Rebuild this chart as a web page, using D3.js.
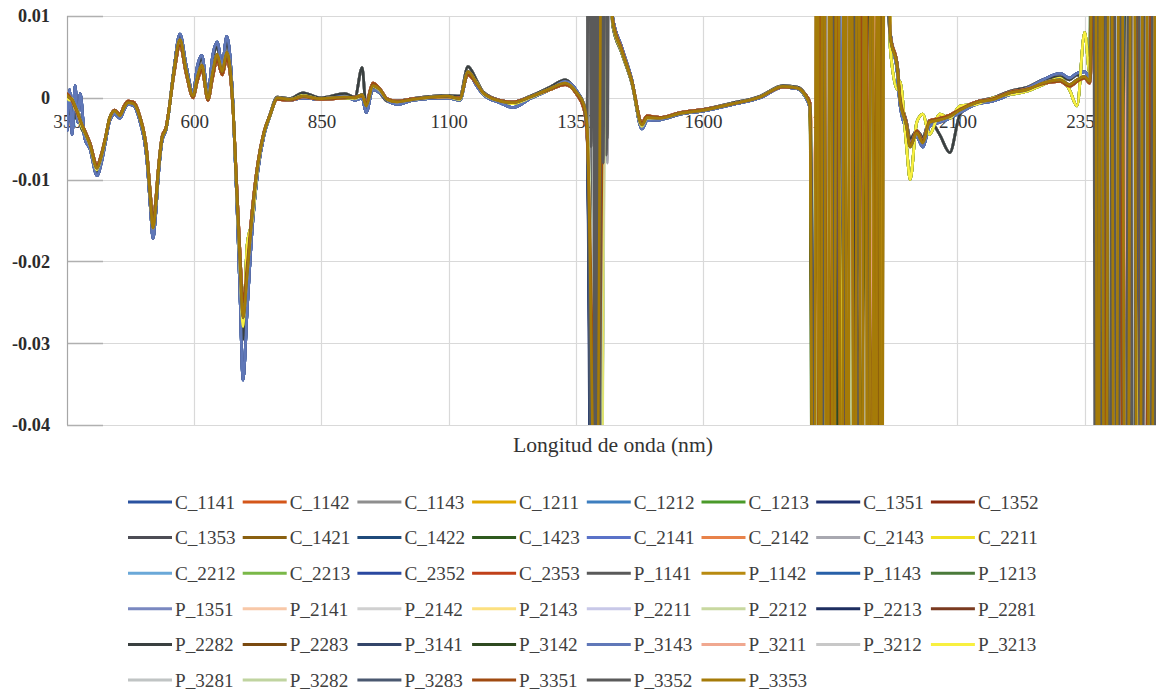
<!DOCTYPE html>
<html><head><meta charset="utf-8">
<script src="https://cdn.jsdelivr.net/npm/d3@7"></script>
<style>
html,body{margin:0;padding:0;background:#fff;}
svg{display:block;}
</style></head>
<body>
<svg id="chart" width="1156" height="691"></svg>
<script>
// ---------- DATA ----------
const seriesNames = ["C_1141","C_1142","C_1143","C_1211","C_1212","C_1213","C_1351","C_1352",
"C_1353","C_1421","C_1422","C_1423","C_2141","C_2142","C_2143","C_2211",
"C_2212","C_2213","C_2352","C_2353","P_1141","P_1142","P_1143","P_1213",
"P_1351","P_2141","P_2142","P_2143","P_2211","P_2212","P_2213","P_2281",
"P_2282","P_2283","P_3141","P_3142","P_3143","P_3211","P_3212","P_3213",
"P_3281","P_3282","P_3283","P_3351","P_3352","P_3353"];

const seriesColors = ["#2a52a0","#d4561a","#8e8e8e","#e0a800","#3d7ebf","#4a9a2a","#1f3170","#8c2a10",
"#4d4d55","#8a6010","#1f4a7a","#2e5a1e","#5a72c8","#e8824a","#a8a8b0","#f0e020",
"#6aa8d8","#7ab848","#2a48a0","#c0401a","#5a5a5a","#b88a10","#2860a8","#4a7a3a",
"#7a88c0","#f8c8a8","#d0d0d0","#fce080","#c8c8e8","#c8d8a0","#1e2e60","#7a3a20",
"#3a4040","#7a4a10","#34466a","#2e4a20","#6078b8","#f0a890","#c8c8c8","#f8f040",
"#c0c4c4","#c0d4a0","#4a5870","#a04a10","#5a5a5a","#a57b08"];

const yTicks = [0.01, 0, -0.01, -0.02, -0.03, -0.04];
const xTicks = [350, 600, 850, 1100, 1350, 1600, 1850, 2100, 2350];
const xTitle = "Longitud de onda (nm)";

// values below are in units of 0.0001
const UNIT = 1e-4;

// wavelengths (nm) of the smooth parts of the spectra
const smoothNm = [350,355,360,366,371,376,385,395,409,418,
 425,434,444,454,462,470,480,493,507,514,
 519,524,529,537,545,550,560,572,584,598,
 606,615,627,636,645,655,664,676,684,690,
 696,704,714,725,737,749,763,788,814,847,
 896,916,930,938,951,965,979,999,1030,1097,
 1122,1138,1156,1168,1201,1227,1260,1299,1329,1352,
 1366,1372,1422,1440,1460,1480,1490,1515,1555,1602,
 1653,1712,1757,1785,1800,1810,1968,1982,1987,2000,
 2007,2020,2032,2045,2065,2085,2105,2137,2170,2203,
 2237,2268,2302,2320,2335,2350,2360];

const profileMain = [3,0,-2,-10,-18,-27,-42,-57,-86,-70,
 -51,-24,-16,-22,-12,-6,-7,-24,-70,-125,
 -159,-135,-94,-49,-37,-17,32,71,34,2,
 25,40,-1,30,53,32,56,-9,-119,-200,
 -269,-216,-143,-82,-43,-21,0,-2,2,-1,
 1,0,4,-10,15,10,-2,-5,-2,2,
 -1,32,17,6,-4,-6,1,11,18,6,
 -9,-33,95,58,20,-33,-24,-25,-19,-15,
 -8,1,14,12,4,-10,75,35,-2,-35,
 -60,-43,-55,-30,-27,-23,-15,-6,-2,6,
 10,18,22,16,22,26,20];

const profileDeep = [-40,10,-45,15,-30,5,-50,-62,-95,-78,
 -56,-28,-20,-25,-15,-8,-9,-28,-76,-135,
 -172,-145,-100,-52,-38,-18,34,78,40,6,
 38,52,4,50,68,40,75,-5,-130,-240,
 -345,-260,-160,-90,-46,-22,-1,-3,0,-2,
 2,-3,0,-18,10,6,-3,-8,-3,0,
 -3,30,14,4,-6,-12,-1,10,20,8,
 -12,-40,100,62,22,-38,-28,-27,-20,-16,
 -9,0,13,11,2,-12,80,30,-8,-40,
 -55,-48,-60,-35,-30,-25,-18,-8,-4,4,
 12,22,30,24,30,32,25];

const profileGray = [-10,-20,-5,-25,-12,-32,-45,-60,-90,-72,
 -53,-26,-17,-23,-13,-5,-6,-25,-72,-128,
 -163,-138,-96,-50,-36,-16,34,75,38,4,
 33,48,2,45,62,36,68,-7,-124,-215,
 -295,-230,-150,-85,-44,-20,1,-1,6,0,
 5,1,37,-12,12,6,-4,-4,-1,3,
 2,38,20,7,-3,-5,2,13,22,7,
 -8,-30,90,55,18,-36,-26,-26,-20,-14,
 -7,2,15,13,5,-8,70,40,5,-30,
 -50,-40,-48,-28,-45,-67,-20,-5,0,8,
 13,22,26,22,28,24,22];

const profileWarm = [5,2,-4,-12,-20,-28,-40,-55,-82,-68,
 -50,-25,-15,-20,-10,-4,-5,-22,-66,-118,
 -150,-128,-90,-47,-35,-16,28,64,30,0,
 20,34,-3,24,46,28,48,-12,-112,-190,
 -250,-205,-137,-80,-42,-21,-2,-3,1,-2,
 0,1,2,-6,18,11,-1,-4,-1,1,
 0,28,16,6,-3,-5,1,10,16,4,
 -14,-45,98,60,21,-30,-22,-24,-18,-14,
 -8,1,13,12,5,-6,78,38,2,-32,
 -58,-40,-52,-28,-25,-21,-14,-5,-1,7,
 11,17,20,14,20,24,18];

const profileBright = [0,-3,-1,-14,-16,-30,-43,-58,-88,-71,
 -52,-25,-16,-21,-11,-5,-6,-23,-68,-122,
 -156,-132,-92,-48,-36,-17,30,68,32,1,
 22,37,-2,28,50,30,52,-10,-122,-210,
 -280,-180,-150,-85,-44,-22,-1,-2,3,-1,
 0,-1,2,-8,14,9,-2,-5,-2,1,
 -2,30,18,5,-4,-7,0,10,17,5,
 -10,-36,92,56,19,-35,-25,-25,-19,-15,
 -8,1,14,12,3,-9,60,10,20,-60,
 -100,-30,-20,-45,-20,-25,-10,-8,0,4,
 8,16,24,10,-10,80,30];

// which smooth profile each series follows (0 main,1 deep,2 gray,3 warm,4 bright)
const seriesProfile = [1,3,2,0,1,4,1,3, 2,0,1,4,1,3,2,4, 1,4,1,3,2,0,1,4,
 1,3,2,4,1,4,1,3, 2,0,3,4,1,3,0,4, 0,0,0,3,0,0];

// [nm, value] points of each series inside the three water absorption bands
const spikes = [
 /*C_1141*/[[1388,-900],[1404,700],[1824,-900],[1850,700],[1880,-900],[1942,600],[2370,600],[2392,-900],[2426,600],[2462,-900],[2498,500]],
 /*C_1142*/[[1386,-700],[1410,600],[1830,-800],[1862,600],[1900,-900],[1955,700],[2376,700],[2404,-900],[2440,600],[2474,-900],[2498,400]],
 /*C_1143*/[[1378,500],[1390,-800],[1406,500],[1416,400],[1820,-900],[1845,600],[1872,-800],[1930,700],[1948,-800],[1960,600],[2366,600],[2384,-900],[2410,600],[2446,-900],[2482,600],[2498,-500]],
 /*C_1211*/[[1384,-600],[1400,800],[1818,-900],[1826,600],[1834,-900],[1842,600],[1850,-900],[1858,600],[1866,-900],[1874,600],[1882,-900],[1890,600],[1898,-900],[1906,600],[1914,-900],[1922,600],[1930,-900],[1938,600],[1946,-900],[1956,600],[2372,600],[2396,-900],[2432,700],[2470,-900],[2498,500]],
 /*C_1212*/[[1392,-900],[1412,600],[1826,-900],[1838,600],[1868,-900],[1910,700],[1936,-800],[1952,600],[2380,600],[2408,-900],[2438,600],[2466,-900],[2498,500]],
 /*C_1213*/[[1380,-400],[1394,-900],[1408,700],[1816,-850],[1832,700],[1876,-900],[1960,600],[2364,700],[2378,-900],[2402,600],[2454,-900],[2498,400]],
 /*C_1351*/[[1384,-1000],[1396,600],[1828,-1000],[1854,600],[1884,-900],[1944,700],[2374,600],[2400,-1000],[2436,600],[2480,-900],[2498,400]],
 /*C_1352*/[[1390,-800],[1408,500],[1832,-800],[1866,600],[1904,-900],[1950,600],[2382,700],[2412,-900],[2448,600],[2484,-900],[2498,300]],
 /*C_1353*/[[1376,500],[1388,-900],[1402,700],[1410,-60],[1416,500],[1822,-900],[1848,700],[1890,-900],[1940,600],[2368,600],[2388,-900],[2420,600],[2458,-900],[2492,600]],
 /*C_1421*/[[1392,-700],[1410,600],[1820,-900],[1830,600],[1840,-900],[1852,600],[1862,-900],[1876,600],[1888,-900],[1900,600],[1912,-900],[1926,600],[1938,-900],[1958,600],[2376,600],[2398,-900],[2428,600],[2464,-900],[2498,500]],
 /*C_1422*/[[1386,-900],[1400,800],[1826,-900],[1858,600],[1896,-900],[1946,700],[2372,700],[2394,-900],[2430,600],[2468,-900],[2498,400]],
 /*C_1423*/[[1390,-600],[1414,500],[1818,-800],[1844,600],[1886,-900],[1962,600],[2366,600],[2382,-800],[2416,600],[2450,-900],[2498,500]],
 /*C_2141*/[[1388,-800],[1404,600],[1830,-900],[1852,700],[1878,-800],[1934,600],[2378,600],[2404,-900],[2442,700],[2476,-900],[2498,400]],
 /*C_2142*/[[1394,-500],[1412,700],[1834,-700],[1870,600],[1908,-900],[1952,600],[2384,600],[2414,-800],[2446,600],[2480,-900],[2498,300]],
 /*C_2143*/[[1380,400],[1390,-900],[1406,600],[1412,-80],[1417,500],[1824,-900],[1856,600],[1892,-900],[1938,600],[2370,600],[2390,-900],[2424,600],[2460,-900],[2494,600]],
 /*C_2211*/[[1396,-700],[1410,800],[1820,-900],[1840,700],[1902,-900],[1958,800],[2374,800],[2402,-900],[2434,800],[2472,-900],[2498,600]],
 /*C_2212*/[[1384,-600],[1402,500],[1822,-900],[1836,600],[1864,-800],[1918,600],[2380,600],[2406,-800],[2440,600],[2478,-900],[2498,400]],
 /*C_2213*/[[1398,-600],[1414,600],[1828,-700],[1860,600],[1898,-900],[1948,600],[2368,600],[2386,-700],[2418,600],[2456,-900],[2498,500]],
 /*C_2352*/[[1386,-900],[1400,600],[1826,-900],[1842,600],[1874,-900],[1928,700],[2376,600],[2400,-900],[2436,700],[2470,-900],[2498,400]],
 /*C_2353*/[[1390,-500],[1406,700],[1832,-800],[1864,600],[1906,-900],[1954,600],[2382,600],[2410,-900],[2444,600],[2482,-900],[2498,300]],
 /*P_1141*/[[1376,600],[1382,-50],[1392,-900],[1404,800],[1410,-70],[1415,500],[1822,-900],[1850,700],[1888,-900],[1944,600],[2366,700],[2386,-900],[2418,600],[2452,-900],[2488,600]],
 /*P_1142*/[[1388,-700],[1410,600],[1819,-900],[1828,600],[1837,-900],[1846,600],[1855,-900],[1864,600],[1873,-900],[1882,600],[1891,-900],[1900,600],[1909,-900],[1918,600],[1927,-900],[1936,600],[1945,-900],[1957,600],[2372,600],[2392,-900],[2414,600],[2438,-900],[2462,600],[2486,-900],[2498,400]],
 /*P_1143*/[[1386,-800],[1402,500],[1828,-900],[1846,600],[1882,-900],[1932,700],[2378,600],[2402,-900],[2434,600],[2468,-900],[2498,500]],
 /*P_1213*/[[1396,-900],[1412,600],[1816,-900],[1838,600],[1870,-900],[1956,600],[2364,600],[2380,-900],[2412,600],[2448,-900],[2498,400]],
 /*P_1351*/[[1390,-900],[1404,700],[1830,-900],[1852,700],[1886,-900],[1940,600],[2374,600],[2398,-900],[2430,600],[2466,-900],[2498,500]],
 /*P_2141*/[[1392,-600],[1408,500],[1834,-600],[1866,600],[1912,-800],[1950,600],[2384,600],[2412,-700],[2446,600],[2484,-800],[2498,300]],
 /*P_2142*/[[1378,500],[1394,-800],[1410,600],[1824,-800],[1858,600],[1894,-900],[1942,600],[2370,600],[2394,-900],[2426,600],[2462,-900],[2496,600]],
 /*P_2143*/[[1398,-700],[1412,800],[1820,-700],[1854,600],[1900,-900],[1960,700],[2376,800],[2404,-900],[2438,700],[2474,-900],[2498,500]],
 /*P_2211*/[[1388,-600],[1402,600],[1826,-600],[1848,600],[1880,-800],[1936,600],[2380,600],[2408,-800],[2442,600],[2480,-900],[2498,400]],
 /*P_2212*/[[1400,-500],[1414,700],[1832,-700],[1868,600],[1904,-800],[1952,600],[2368,600],[2388,-700],[2420,600],[2458,-800],[2498,500]],
 /*P_2213*/[[1386,-1000],[1398,600],[1828,-1000],[1844,600],[1872,-900],[1926,700],[2374,600],[2396,-1000],[2432,600],[2470,-900],[2498,400]],
 /*P_2281*/[[1390,-700],[1406,500],[1830,-800],[1862,600],[1898,-900],[1946,600],[2382,600],[2412,-900],[2448,600],[2486,-900],[2498,300]],
 /*P_2282*/[[1376,500],[1392,-900],[1404,700],[1822,-900],[1846,700],[1884,-900],[1938,600],[2368,700],[2390,-900],[2422,600],[2456,-900],[2490,600]],
 /*P_2283*/[[1388,-800],[1408,600],[1817,-900],[1825,600],[1833,-900],[1843,600],[1853,-900],[1861,600],[1869,-900],[1879,600],[1889,-900],[1897,600],[1905,-900],[1915,600],[1925,-900],[1933,600],[1941,-900],[1953,600],[2372,600],[2390,-900],[2410,600],[2434,-900],[2458,600],[2482,-900],[2498,400]],
 /*P_3141*/[[1386,-900],[1400,800],[1826,-900],[1852,700],[1890,-900],[1944,600],[2376,600],[2400,-900],[2434,600],[2470,-900],[2498,400]],
 /*P_3142*/[[1394,-800],[1410,600],[1818,-800],[1840,600],[1878,-900],[1958,600],[2366,600],[2384,-900],[2414,600],[2452,-900],[2498,500]],
 /*P_3143*/[[1390,-700],[1404,600],[1830,-900],[1856,600],[1892,-800],[1934,600],[2378,600],[2404,-900],[2440,600],[2476,-900],[2498,400]],
 /*P_3211*/[[1396,-600],[1412,500],[1834,-600],[1870,600],[1910,-800],[1954,600],[2384,600],[2414,-700],[2448,600],[2486,-800],[2498,300]],
 /*P_3212*/[[1380,500],[1392,-800],[1406,700],[1824,-800],[1850,600],[1886,-900],[1940,600],[2370,600],[2392,-900],[2424,600],[2460,-900],[2494,600]],
 /*P_3213*/[[1398,-900],[1408,800],[1820,-900],[1836,800],[1896,-900],[1956,800],[2374,800],[2398,-900],[2432,800],[2468,-900],[2498,600]],
 /*P_3281*/[[1378,500],[1390,-700],[1404,600],[1826,-700],[1858,600],[1900,-800],[1948,600],[2378,600],[2386,-900],[2394,600],[2404,-900],[2416,600],[2428,-900],[2440,600],[2452,-900],[2464,600],[2476,-900],[2490,600]],
 /*P_3282*/[[1396,-600],[1410,600],[1832,-600],[1866,600],[1906,-800],[1952,600],[2368,600],[2388,-700],[2420,600],[2456,-800],[2498,500]],
 /*P_3283*/[[1386,-900],[1402,700],[1828,-900],[1848,700],[1880,-900],[1930,600],[2376,600],[2402,-900],[2436,600],[2472,-900],[2498,400]],
 /*P_3351*/[[1392,-500],[1414,600],[1822,-900],[1834,600],[1848,-900],[1860,600],[1874,-900],[1886,600],[1902,-900],[1916,600],[1932,-900],[1950,600],[2382,600],[2396,-900],[2412,600],[2430,-900],[2448,600],[2466,-900],[2486,600]],
 /*P_3352*/[[1376,500],[1380,-60],[1384,600],[1388,-900],[1392,600],[1396,-900],[1400,600],[1404,-80],[1408,600],[1412,-50],[1416,600],[1826,-900],[1846,600],[1868,-900],[1888,600],[1914,-900],[1940,600],[2366,600],[2372,-900],[2378,600],[2384,-900],[2392,600],[2398,-900],[2406,600],[2414,-900],[2422,600],[2430,-900],[2438,600],[2446,-900],[2454,600],[2462,-900],[2470,600],[2478,-900],[2486,600],[2494,-900],[2500,600]],
 /*P_3353*/[[1390,-600],[1406,700],[1818,-900],[1824,600],[1830,-900],[1836,600],[1844,-900],[1850,600],[1856,-900],[1864,600],[1872,-900],[1878,600],[1884,-900],[1890,600],[1898,-900],[1904,600],[1912,-900],[1918,600],[1924,-900],[1932,600],[1938,-900],[1944,600],[1950,-900],[1958,600],[2370,600],[2376,-900],[2382,600],[2390,-900],[2400,600],[2410,-900],[2420,600],[2432,-900],[2444,600],[2456,-900],[2468,600],[2480,-900],[2492,600]]
];

const profiles = [profileMain, profileDeep, profileGray, profileWarm, profileBright];

// ---------- FONT PICK (serif if installed) ----------
const measureCtx = document.createElement("canvas").getContext("2d");
function textWidth(font, txt) { measureCtx.font = font; return measureCtx.measureText(txt).width; }
function fontExists(fam) {
  const t = "Longitud de onda (nm) 0123456789";
  return textWidth(`40px "${fam}", monospace`, t) !== textWidth("40px monospace", t);
}
const serifCandidates = ["Liberation Serif", "Tinos", "Times New Roman", "DejaVu Serif", "Noto Serif",
  "FreeSerif", "Nimbus Roman", "Nimbus Roman No9 L", "Times"];
const fontFam = serifCandidates.filter(fontExists).map(f => `"${f}", serif`)[0] || "serif";
function fitSize(weight, txt, target) {
  const w = textWidth(`${weight} 100px ${fontFam}`, txt);
  return w > 0 ? target / w * 100 : 16;
}
const titleSize = Math.min(22, fitSize("normal", xTitle, 200));
const legendSize = Math.min(20, fitSize("normal", "C_1141", 60));
const yTickSize = Math.min(19, fitSize("bold", "-0.04", 38));
const xTickSize = Math.min(19, fitSize("normal", "1600", 38));

// ---------- DRAW ----------
const svg = d3.select("#chart");
const W = 1156, H = 691;
const plot = {left: 67, right: 1161, top: 16, bottom: 425};
const x = d3.scaleLinear().domain([350, 2500]).range([plot.left, plot.right]);
const y = d3.scaleLinear().domain([-0.04, 0.01]).range([plot.bottom, plot.top]);

svg.append("rect").attr("width", W).attr("height", H).attr("fill", "#fff");

const defs = svg.append("defs");
defs.append("clipPath").attr("id", "plotClip").append("rect")
  .attr("x", plot.left).attr("y", plot.top)
  .attr("width", plot.right - plot.left).attr("height", plot.bottom - plot.top);

// gridlines
const grid = svg.append("g");
grid.selectAll("line.h").data(yTicks).join("line")
  .attr("x1", plot.left).attr("x2", plot.right)
  .attr("y1", d => Math.round(y(d)) + 0.5).attr("y2", d => Math.round(y(d)) + 0.5)
  .attr("stroke", "#d9d9d9").attr("stroke-width", 1.2);
grid.selectAll("line.v").data(xTicks.filter(d => d !== 350)).join("line")
  .attr("x1", d => Math.round(x(d)) + 0.5).attr("x2", d => Math.round(x(d)) + 0.5)
  .attr("y1", plot.top).attr("y2", plot.bottom)
  .attr("stroke", "#d9d9d9").attr("stroke-width", 1.2);
grid.selectAll("line.s").data(yTicks).join("line")
  .attr("x1", plot.left).attr("x2", plot.left + 36)
  .attr("y1", d => Math.round(y(d)) + 0.5).attr("y2", d => Math.round(y(d)) + 0.5)
  .attr("stroke", "#b0b0b0").attr("stroke-width", 1.4);
grid.append("line")
  .attr("x1", plot.left + 0.5).attr("x2", plot.left + 0.5)
  .attr("y1", plot.top).attr("y2", plot.bottom)
  .attr("stroke", "#a6a6a6").attr("stroke-width", 1.2);

// y axis labels
const yAxis = svg.append("g").attr("transform", `translate(${plot.left},0)`)
  .call(d3.axisLeft(y).tickValues(yTicks).tickSize(0).tickPadding(17)
    .tickFormat(d => d === 0 ? "0" : d.toFixed(2)));
yAxis.select(".domain").remove();
yAxis.attr("font-family", null).attr("font-size", null);
yAxis.selectAll("text").style("font-family", fontFam).style("font-size", yTickSize + "px")
  .attr("fill", "#2b2b2b").style("font-weight", "bold");

// x axis labels (crossing at 0)
const xAxis = svg.append("g").attr("transform", `translate(0,${y(0)})`)
  .call(d3.axisBottom(x).tickValues(xTicks).tickSize(0).tickPadding(17)
    .tickFormat(d => String(d)));
xAxis.select(".domain").remove();
xAxis.attr("font-family", null).attr("font-size", null);
xAxis.selectAll("text").style("font-family", fontFam).style("font-size", xTickSize + "px").attr("fill", "#333");

// x axis title
svg.append("text").attr("x", 613).attr("y", 445)
  .attr("text-anchor", "middle").attr("dominant-baseline", "central")
  .style("font-family", fontFam).style("font-size", titleSize + "px").attr("fill", "#333")
  .text(xTitle);

// series
const line = d3.line()
  .x(d => x(d[0]))
  .y(d => y(d[1] * UNIT))
  .curve(d3.curveMonotoneX);

const seriesData = seriesNames.map((name, i) => {
  const prof = profiles[seriesProfile[i]];
  const pts = smoothNm.map((nm, j) => [nm, prof[j]]).concat(spikes[i]);
  pts.sort((a, b) => a[0] - b[0]);
  return {name, color: seriesColors[i], pts};
});

svg.append("g").attr("clip-path", "url(#plotClip)")
  .selectAll("path").data(seriesData).join("path")
  .attr("d", d => line(d.pts))
  .attr("fill", "none")
  .attr("stroke", d => d.color)
  .attr("stroke-width", 2.7)
  .attr("stroke-linejoin", "round")
  .attr("stroke-linecap", "round");

// legend
const legend = svg.append("g");
const item = legend.selectAll("g").data(seriesNames).join("g")
  .attr("transform", (d, i) => `translate(${128 + (i % 8) * 114.7},${502 + Math.floor(i / 8) * 35.6})`);
item.append("line").attr("x1", 0).attr("x2", 44).attr("y1", 0).attr("y2", 0)
  .attr("stroke", (d, i) => seriesColors[i]).attr("stroke-width", 3);
item.append("text").attr("x", 47).attr("y", 0).attr("dy", "0.35em")
  .style("font-family", fontFam).style("font-size", legendSize + "px").attr("fill", "#404040")
  .text(d => d);
</script>
</body></html>
